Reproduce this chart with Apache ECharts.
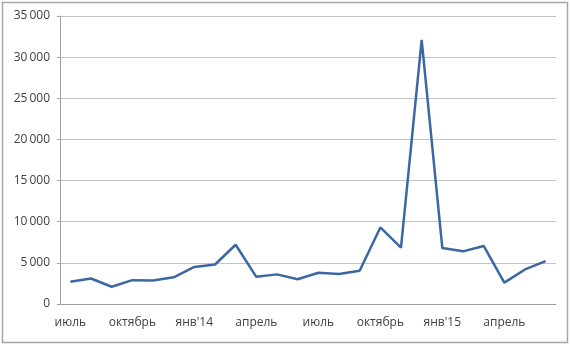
<!DOCTYPE html>
<html><head><meta charset="utf-8">
<script src="https://cdn.jsdelivr.net/npm/echarts@6/dist/echarts.min.js"></script>
<style>html,body{margin:0;padding:0;background:#fff}#c{width:570px;height:348px}</style>
</head><body><div id="c"></div>
<script>
const categories = ['июль','авг','сен','октябрь','ноя','дек','янв\'14','фев','мар','апрель','май','июн',
  'июль','авг','сен','октябрь','ноя','дек','янв\'15','фев','мар','апрель','май','июн'];
const values = [2700,3100,2100,2900,2850,3250,4500,4800,7200,3300,3600,3000,
  3800,3650,4050,9300,6850,32100,6800,6400,7050,2600,4200,5200];
const yTicks = {min:0, max:35000, interval:5000};

const chart = echarts.init(document.getElementById('c'));
chart.setOption({
  animation:false,
  backgroundColor:'#fff',
  graphic:[{type:'rect',shape:{x:2.5,y:2.5,width:565,height:340},style:{fill:'none',stroke:'#a6a6a6',lineWidth:1.5}}],
  grid:{left:60,right:14,top:16,bottom:44},
  xAxis:{type:'category',data:categories,boundaryGap:true,
    axisLine:{lineStyle:{color:'#a0a0a0',width:1}},
    axisTick:{interval:2,length:4,lineStyle:{color:'#a0a0a0'}},
    axisLabel:{interval:2,color:'#404040',fontSize:12,fontFamily:'Open Sans',margin:13}},
  yAxis:{type:'value',min:yTicks.min,max:yTicks.max,interval:yTicks.interval,
    axisLine:{show:true,lineStyle:{color:'#a0a0a0'}},
    axisTick:{show:true,length:3,lineStyle:{color:'#a0a0a0'}},
    splitLine:{lineStyle:{color:'#c4c4c4',width:1}},
    axisLabel:{color:'#404040',fontSize:12,fontFamily:'Open Sans',margin:10,
      formatter:v=>String(v).replace(/\B(?=(\d{3})+(?!\d))/g,'\u2009')}},
  series:[{type:'line',data:values,symbol:'none',lineStyle:{color:'#3b68a3',width:2.5}}]
});
</script></body></html>
